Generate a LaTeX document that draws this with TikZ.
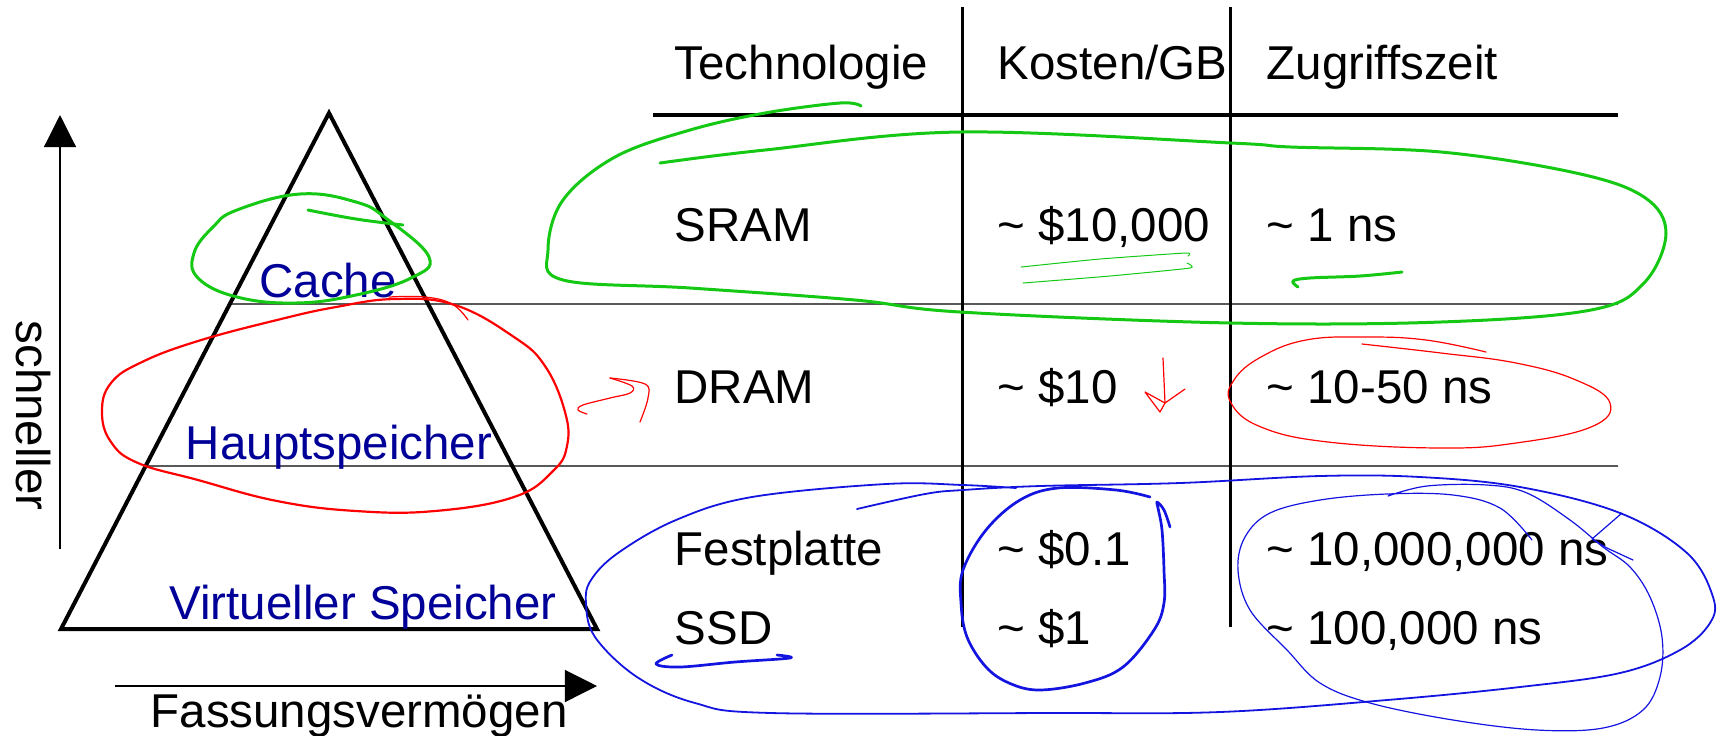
\documentclass[tikz,border=0pt]{standalone}
\usepackage{fontspec}
\setmainfont{Liberation Sans}
\usetikzlibrary{arrows.meta,calc}

\definecolor{labelblue}{RGB}{0,0,153}
\definecolor{penGreen}{RGB}{20,200,20}
\definecolor{penRed}{RGB}{255,0,0}
\definecolor{penBlue}{RGB}{20,20,225}

\newcommand\cellfont{\fontsize{13.5pt}{16pt}\selectfont}

\tikzset{
  cell/.style={font=\cellfont, anchor=base west, inner sep=0pt},
  level/.style={font=\cellfont, text=labelblue, anchor=base, inner sep=0pt},
  axis/.style={line width=0.012cm, -{Triangle[length=0.32cm,width=0.32cm]}},
  rowrule/.style={black, line width=0.012cm},
  pen/.style={line cap=round, line join=round},
  penG/.style={pen, draw=penGreen, line width=0.03cm},
  penGthin/.style={pen, draw=penGreen, line width=0.01cm},
  penR/.style={pen, draw=penRed, line width=0.022cm},
  penRthin/.style={pen, draw=penRed, line width=0.012cm},
  penB/.style={pen, draw=penBlue, line width=0.018cm},
  penBthick/.style={pen, draw=penBlue, line width=0.027cm},
  penBthin/.style={pen, draw=penBlue, line width=0.012cm},
}

\begin{document}
\begin{tikzpicture}[x=0.01cm, y=-0.01cm]
\useasboundingbox (0,0) rectangle (1717,735);

% ---------- memory pyramid ----------
\coordinate (apex) at (329,113);
\coordinate (bl) at (61,629);
\coordinate (br) at (597,629);
\draw[line width=0.04cm, line join=miter] (apex) -- (bl) -- (br) -- cycle;

% row separators, starting on the left flank of the pyramid
\coordinate (sepA) at ($(apex)!0.370!(bl)$);
\coordinate (sepB) at ($(apex)!0.684!(bl)$);
\coordinate (sepAend) at (1618,304);
\coordinate (sepBend) at (1618,466);
\draw[rowrule] (sepA) -- (sepAend);
\draw[rowrule] (sepB) -- (sepBend);

\node[level] (cache) at (328,297) {Cache};
\node[level] (main) at (339,459) {Hauptspeicher};
\node[level] (virt) at (363,619) {Virtueller Speicher};

% ---------- axes ----------
\coordinate (vaxFrom) at (60,549);
\coordinate (vaxTo) at (60,115);
\coordinate (haxFrom) at (115,686);
\coordinate (haxTo) at (597,686);
\draw[axis] (vaxFrom) -- (vaxTo);
\draw[axis] (haxFrom) -- (haxTo);
\node[cell, rotate=-90] (fast) at (16,320) {schneller};
\node[cell] (cap) at (150,727) {Fassungsvermögen};

% ---------- table ----------
\coordinate (hruleL) at (653,115);
\coordinate (hruleR) at (1618,115);
\draw[line width=0.04cm] (hruleL) -- (hruleR);
\coordinate (colAtop) at (962,7);
\coordinate (colAbot) at (962,627);
\coordinate (colBtop) at (1230,7);
\coordinate (colBbot) at (1230,627);
\draw[line width=0.03cm] (colAtop) -- (colAbot);
\draw[line width=0.03cm] (colBtop) -- (colBbot);

\node[cell] (h1) at (674,79) {Technologie};
\node[cell] (h2) at (997,79) {Kosten/GB};
\node[cell] (h3) at (1266,79) {Zugriffszeit};

\node[cell] (t1) at (674,241) {SRAM};
\node[cell] (c1) at (997,241) {\textasciitilde{} \$10,000};
\node[cell] (z1) at (1266,241) {\textasciitilde{} 1 ns};

\node[cell] (t2) at (674,403) {DRAM};
\node[cell] (c2) at (997,403) {\textasciitilde{} \$10};
\node[cell] (z2) at (1266,403) {\textasciitilde{} 10-50 ns};

\node[cell] (t3) at (674,565) {Festplatte};
\node[cell] (c3) at (997,565) {\textasciitilde{} \$0.1};
\node[cell] (z3) at (1266,565) {\textasciitilde{} 10,000,000 ns};

\node[cell] (t4) at (674,644) {SSD};
\node[cell] (c4) at (997,644) {\textasciitilde{} \$1};
\node[cell] (z4) at (1266,644) {\textasciitilde{} 100,000 ns};

% ---------- green pen: SRAM / cache ----------
\draw[penG] plot[smooth cycle, tension=0.7] coordinates {
  (237,210) (300,194) (356,202) (387,219) (429,257) (411,278) (356,295)
  (296,303) (237,297) (198,278) (194,253) (213,227)};
\draw[penG] plot[smooth, tension=0.7] coordinates {(308,210) (356,219) (403,225)};
\draw[penG] plot[smooth, tension=0.6] coordinates {
  (660,163) (765,150) (960,132) (1231,143) (1291,147) (1441,152) (1576,173)
  (1644,197) (1666,233) (1644,283) (1591,310) (1441,322) (1231,323) (960,312)
  (855,300) (690,288) (563,280) (548,250) (563,200) (615,157) (690,130)
  (765,113) (840,103) (861,106)};
\draw[penGthin] plot[smooth, tension=0.3] coordinates {
  (1021,267) (1100,259) (1186,253) (1188,256)};
\draw[penGthin] plot[smooth, tension=0.3] coordinates {
  (1187,263) (1190,268) (1110,276) (1023,283)};

\draw[penG] plot[smooth, tension=0.6] coordinates {
  (1402,272) (1360,276) (1310,278) (1293,281) (1298,287)};

% ---------- red pen: DRAM / main memory ----------
\draw[penR] plot[smooth cycle, tension=0.7] coordinates {
  (395,299) (455,305) (514,337) (545,366) (565,412) (567,446) (553,471)
  (514,497) (435,511) (356,511) (277,501) (198,480) (138,463) (111,442)
  (102,412) (111,383) (142,362) (198,341) (277,320) (336,307)};
\draw[penRthin] plot[smooth, tension=0.7] coordinates {
  (389,297) (425,297) (452,304) (468,320)};
\draw[penRthin] plot[smooth, tension=0.6] coordinates {
  (587,414) (578,410) (583,405) (610,398) (630,393) (632,386) (610,378)};
\draw[penRthin] plot[smooth, tension=0.6] coordinates {
  (610,378) (645,384) (648,398) (640,422)};
\draw[penRthin] plot[smooth, tension=0.5] coordinates {(1163,358) (1164,380) (1165,403)};
\draw[penRthin] (1185,389) -- (1165,403) -- (1145,392) -- (1160,412) -- (1165,403);
\draw[penRthin] plot[smooth, tension=0.7] coordinates {
  (1486,352) (1426,340) (1366,337) (1306,340) (1261,357) (1234,380) (1231,403)
  (1261,427) (1328,442) (1441,448) (1516,443) (1591,427) (1610,403) (1576,380)
  (1516,363) (1441,353) (1362,344)};

% ---------- blue pen: disk / SSD ----------
\draw[penB] plot[smooth, tension=0.6] coordinates {
  (857,509) (925,494) (963,490) (1040,486) (1180,483) (1320,476) (1420,477)
  (1520,487) (1620,513) (1687,553) (1713,597) (1710,623) (1680,650) (1620,673)
  (1520,687) (1387,700) (1220,712) (1050,713) (771,713) (695,703) (637,677)
  (595,637) (586,603) (591,580) (618,553) (676,520) (752,497) (886,484)
  (963,485) (1016,488)};
\draw[penBthick] plot[smooth, tension=0.6] coordinates {
  (1150,497) (1116,490) (1058,488) (1020,500) (986,530) (963,570) (961,603)
  (967,637) (986,667) (1009,683) (1039,690) (1085,683) (1123,667) (1154,630)
  (1164,603) (1164,570) (1162,530) (1158,508) (1157,502) (1164,510) (1170,527)};
\draw[penBthick] plot[smooth, tension=0.6] coordinates {
  (672,655) (656,664) (680,667) (735,662) (790,658) (777,655)};
\draw[penBthin] plot[smooth, tension=0.6] coordinates {
  (1532,540) (1500,508) (1453,495) (1387,494) (1320,500) (1270,513) (1245,537)
  (1238,570) (1250,610) (1287,650) (1320,683) (1370,703) (1453,720) (1537,730)
  (1603,728) (1643,710) (1660,677) (1662,637) (1650,597) (1630,567) (1603,547)
  (1570,520) (1527,493) (1487,485) (1427,486) (1388,496)};
\draw[penBthin] (1622,513) -- (1592,539) -- (1607,548) -- (1633,560);

\end{tikzpicture}
\end{document}
